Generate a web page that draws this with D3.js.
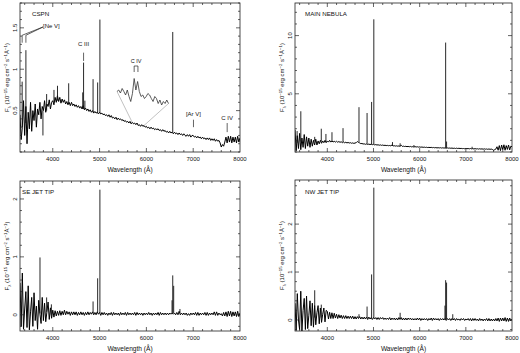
<!DOCTYPE html>
<html><head><meta charset="utf-8">
<script src="https://cdn.jsdelivr.net/npm/d3@7"></script>
<style>
body{margin:0;background:#fff}
svg{display:block;background:#fff}
text{font-family:"Liberation Sans",Arial,sans-serif;fill:#111}
</style></head>
<body><svg id="c" width="520" height="353"></svg>
<script>
// ---- data ----
const waveStart = 3300, waveStep = 25;           // flux arrays sampled every 25 Å from 3300 to 8000
const xTicks = [4000, 5000, 6000, 7000, 8000];

const cspnFlux = [
 0.45,0.15,0.30,0.62, 0.20,0.55,0.10,0.48, 0.28,0.60,0.25,0.50, 0.38,0.58,0.30,0.52, 0.45,0.60,0.40,0.55,
 0.50,0.62,0.48,0.58, 0.55,0.63,0.52,0.60, 0.62,0.57,0.66,0.60, 0.68,0.61,0.66,0.59, 0.64,0.60,0.63,0.58,
 0.61,0.57,0.60,0.56, 0.60,0.56,0.58,0.55, 0.57,0.54,0.56,0.53, 0.55,0.52,0.56,0.51, 0.53,0.50,0.52,0.49,
 0.51,0.48,0.50,0.47, 0.49,0.47,0.48,0.46, 0.48,0.46,0.47,0.45, 0.46,0.44,0.45,0.43, 0.45,0.42,0.44,0.41,
 0.42,0.40,0.42,0.39, 0.41,0.39,0.40,0.38, 0.39,0.37,0.38,0.36, 0.37,0.35,0.37,0.34, 0.36,0.34,0.35,0.33,
 0.35,0.32,0.33,0.31, 0.33,0.31,0.32,0.30, 0.31,0.29,0.30,0.28, 0.30,0.28,0.29,0.27, 0.28,0.27,0.28,0.26,
 0.27,0.25,0.27,0.25, 0.26,0.24,0.25,0.23, 0.25,0.23,0.24,0.22, 0.24,0.22,0.23,0.21, 0.23,0.21,0.22,0.20,
 0.22,0.20,0.19,0.21, 0.19,0.21,0.18,0.20, 0.20,0.18,0.19,0.17, 0.19,0.17,0.18,0.16, 0.18,0.16,0.17,0.15,
 0.17,0.15,0.17,0.14, 0.16,0.14,0.16,0.13, 0.15,0.13,0.14,0.11, 0.06,0.09,0.07,0.12, 0.18,0.11,0.19,0.12,
 0.19,0.11,0.18,0.12, 0.18,0.11,0.19,0.12, 0.17];
const mainFlux = [
 1.9,0.1,1.4,0.3, 1.6,0.2,1.2,0.4, 1.5,0.3,1.3,0.5, 1.2,0.4,1.1,0.5, 1.0,0.6,1.1,0.6,
 0.95,0.7,1.0,0.75, 0.95,0.8,1.0,0.8, 0.95,0.85,1.0,0.85, 0.95,0.86,0.92,0.85, 0.92,0.84,0.9,0.83,
 0.88,0.8,0.86,0.79, 0.84,0.78,0.82,0.77, 0.8,0.75,0.78,0.74, 0.77,0.8,0.9,0.82, 0.78,0.72,0.73,0.69,
 0.7,0.66,0.69,0.65, 0.68,0.64,0.67,0.63, 0.66,0.61,0.64,0.6, 0.62,0.58,0.61,0.57, 0.6,0.56,0.58,0.55,
 0.57,0.54,0.56,0.53, 0.6,0.52,0.54,0.51, 0.53,0.5,0.52,0.49, 0.58,0.48,0.5,0.47, 0.49,0.46,0.48,0.45,
 0.48,0.44,0.46,0.43, 0.46,0.43,0.45,0.42, 0.44,0.41,0.43,0.4, 0.42,0.39,0.41,0.38, 0.4,0.38,0.4,0.37,
 0.39,0.36,0.38,0.35, 0.37,0.35,0.37,0.34, 0.36,0.34,0.35,0.33, 0.35,0.33,0.34,0.32, 0.34,0.31,0.33,0.3,
 0.33,0.3,0.32,0.3, 0.31,0.29,0.3,0.28, 0.3,0.28,0.3,0.27, 0.3,0.27,0.29,0.26, 0.29,0.26,0.28,0.25,
 0.28,0.25,0.27,0.24, 0.27,0.24,0.26,0.23, 0.26,0.23,0.25,0.22, 0.15,0.2,0.25,0.45, 0.15,0.55,0.12,0.6,
 0.2,0.62,0.15,0.55, 0.22,0.6,0.18,0.5, 0.45];
const seFlux = [
 0.55,-0.2,0.72,-0.25, 0.1,0.4,-0.22,0.5, -0.26,0.05,0.3,-0.2, 0.38,-0.1,0.15,-0.25, 0.25,0.02,-0.15,0.3,
 -0.1,0.2,-0.12,0.05, 0.22,-0.08,0.12,-0.06, 0.08,-0.04,0.07,-0.02, 0.06,-0.01,0.07,-0.01, 0.06,0.0,0.08,0.0,
 0.06,0.01,0.05,-0.01, 0.05,0.0,0.05,0.0, 0.05,-0.01,0.04,0.0, 0.05,0.0,0.04,-0.01, 0.04,0.0,0.05,0.0,
 0.04,0.01,0.05,0.0, 0.04,0.0,0.05,0.01, 0.04,-0.01,0.04,0.0, 0.04,0.0,0.03,-0.01, 0.03,0.0,0.04,-0.01,
 0.04,0.0,0.03,0.0, 0.03,-0.01,0.04,0.0, 0.03,0.0,0.04,-0.01, 0.04,0.0,0.03,0.0, 0.03,0.0,0.04,-0.01,
 0.04,0.0,0.03,0.0, 0.03,-0.01,0.03,0.0, 0.03,0.0,0.04,0.0, 0.03,-0.01,0.03,0.0, 0.03,0.0,0.04,-0.01,
 0.04,0.0,0.03,0.0, 0.03,0.0,0.03,0.0, 0.03,0.01,0.03,0.01, 0.03,0.0,0.04,0.0, 0.06,0.0,0.03,0.0,
 0.03,0.0,0.03,-0.01, 0.02,-0.01,0.03,0.0, 0.03,0.0,0.04,-0.01, 0.04,-0.01,0.03,0.0, 0.03,0.0,0.04,-0.01,
 0.04,-0.01,0.03,0.0, 0.03,0.0,0.05,-0.01, 0.05,-0.01,0.03,0.0, 0.02,-0.02,0.04,-0.02, 0.05,-0.03,0.06,-0.02,
 0.06,-0.03,0.05,-0.02, 0.05,-0.03,0.06,-0.03, 0.03];
const nwFlux = [
 0.35,-0.22,0.55,0.0, -0.2,0.6,-0.23,0.2, 0.45,-0.2,0.5,-0.18, 0.1,0.4,-0.12,0.35, -0.15,0.3,-0.1,0.15,
 0.3,-0.08,0.25,-0.05, 0.12,0.25,-0.04,0.2, 0.18,0.02,0.16,0.03, 0.15,0.03,0.14,0.04, 0.12,0.03,0.11,0.04,
 0.1,0.03,0.09,0.03, 0.09,0.03,0.08,0.03, 0.08,0.03,0.08,0.02, 0.07,0.02,0.07,0.03, 0.07,0.02,0.06,0.02,
 0.06,0.02,0.06,0.01, 0.06,0.02,0.05,0.01, 0.05,0.02,0.05,0.01, 0.05,0.01,0.05,0.02, 0.05,0.01,0.04,0.01,
 0.04,0.01,0.05,0.0, 0.04,0.01,0.04,0.0, 0.04,0.0,0.05,0.01, 0.05,0.0,0.04,0.0, 0.04,0.0,0.04,0.01,
 0.04,0.0,0.03,0.0, 0.03,0.0,0.04,0.0, 0.04,-0.01,0.03,0.0, 0.03,0.0,0.03,-0.01, 0.03,0.0,0.04,-0.01,
 0.04,0.0,0.03,0.0, 0.03,-0.01,0.03,0.0, 0.03,0.0,0.03,-0.01, 0.03,0.0,0.03,-0.01, 0.03,0.0,0.03,-0.01,
 0.03,0.0,0.02,-0.01, 0.03,0.0,0.03,-0.01, 0.02,0.0,0.03,-0.01, 0.03,-0.02,0.03,-0.01, 0.03,-0.01,0.02,-0.02,
 0.03,-0.01,0.02,-0.02, 0.02,-0.01,0.03,-0.02, 0.03,-0.02,0.02,-0.02, 0.02,-0.02,0.03,-0.02, 0.04,-0.03,0.04,-0.02,
 0.04,-0.02,0.05,-0.03, 0.04,-0.03,0.04,-0.02, 0.02];

// emission / absorption lines: [wavelength, continuum level, peak]
const cspnLines = [[3346,0.30,0.85],[3426,0.35,1.23],[3790,0.50,0.20],[3869,0.50,0.70],[4026,0.60,0.75],[4101,0.62,0.80],
 [4340,0.58,0.83],[4640,0.52,0.72],[4658,0.52,1.08],[4686,0.52,0.62],[4861,0.48,0.88],[4959,0.47,0.84],[5007,0.47,1.60],[6563,0.24,1.45]];
const mainLines = [[3346,0.8,1.8],[3426,0.9,3.5],[3727,0.9,1.3],[3869,0.9,2.0],[3970,0.85,1.55],[4101,0.9,1.7],[4340,0.85,2.05],
 [4686,0.85,3.85],[4861,0.7,3.35],[4959,0.68,4.3],[5007,0.66,11.4],[5412,0.55,0.85],[5577,0.5,0.75],[5876,0.46,0.6],
 [6563,0.35,9.4],[6583,0.35,0.9],[7136,0.28,0.45]];
const seLines = [[3727,0.02,0.99],[3869,0.05,0.30],[3970,0.0,0.18],[4861,0.03,0.23],[4959,0.03,0.63],[5007,0.03,2.16],
 [6548,0.03,0.25],[6563,0.03,0.68],[6583,0.03,0.50],[6717,0.03,0.10]];
const nwLines = [[3727,0.05,0.62],[3869,0.05,0.32],[4686,0.05,0.12],[4861,0.04,0.28],[4959,0.04,0.95],[5007,0.04,2.76],
 [5577,0.03,0.15],[6548,0.02,0.30],[6563,0.02,0.83],[6583,0.02,0.78],[6717,0.02,0.12]];

const cspnYTicks = [0.5, 1, 1.5];
const mainYTicks = [5, 10];
const seYTicks = [0, 1, 2];
const nwYTicks = [0, 1, 2];

// C IV inset (relative flux, every 5 Å from 5751)
const insetStart = 5751, insetStep = 5;
const insetFlux = [1.23,1.26,1.20,1.29,1.23,1.16,1.26,1.13,1.03,1.19,1.49,1.26,1.43,1.23,1.13,1.16,1.09,1.13,1.19,1.16,
 1.09,1.03,1.13,1.09,0.99,1.06,0.96,1.03,0.99,1.06,0.99];

// CSPN line identifications: [label, wavelength, tick top flux, tick bottom flux, text flux]
const cspnIds = [["C III",4658,1.20,1.10,1.28],["[Ar V]",7006,0.39,0.30,0.435],["C IV",7726,0.35,0.24,0.39]];

// ---- drawing ----
const svg = d3.select("#c");
const panels = [
  {name:"CSPN", flux:cspnFlux, lines:cspnLines, yDom:[0,1.8], yTicks:cspnYTicks, yMinor:0.1, x0:20, x1:240, y0:3, y1:152, lx:32, ly:16},
  {name:"MAIN NEBULA", flux:mainFlux, lines:mainLines, yDom:[0,12.8], yTicks:mainYTicks, yMinor:1, x0:295, x1:512, y0:3, y1:152, lx:305, ly:16},
  {name:"SE JET TIP", flux:seFlux, lines:seLines, yDom:[-0.28,2.31], yTicks:seYTicks, yMinor:0.2, x0:20, x1:240, y0:181, y1:331, lx:22, ly:194},
  {name:"NW JET TIP", flux:nwFlux, lines:nwLines, yDom:[-0.23,2.92], yTicks:nwYTicks, yMinor:0.2, x0:295, x1:512, y0:180, y1:331, lx:305, ly:194}
];

function minorVals(lo, hi, step, majors){
  const out=[];
  for(let k=Math.ceil(lo/step-1e-9); k*step<=hi+1e-9; k++){
    const v=+(k*step).toFixed(6);
    if(!majors.some(m=>Math.abs(m-v)<1e-6)) out.push(v);
  }
  return out;
}

panels.forEach((p,i)=>{
  const x = d3.scaleLinear().domain([3300,8000]).range([p.x0,p.x1]);
  const y = d3.scaleLinear().domain(p.yDom).range([p.y1,p.y0]);
  const g = svg.append("g");
  const clipId = "clip"+i;
  svg.append("clipPath").attr("id",clipId).append("rect")
    .attr("x",p.x0).attr("y",p.y0).attr("width",p.x1-p.x0).attr("height",p.y1-p.y0);

  const pts = p.flux.map((f,k)=>({w:waveStart+k*waveStep, f}));
  const line = d3.line().x(d=>x(d.w)).y(d=>y(d.f));
  const body = g.append("g").attr("clip-path",`url(#${clipId})`);
  body.append("path").attr("d",line(pts)).attr("fill","none").attr("stroke","#000")
    .attr("stroke-width",1.0).attr("stroke-linejoin","round");
  body.selectAll("path.em").data(p.lines).join("path").attr("class","em")
    .attr("d",d=>line([{w:d[0],f:d[1]},{w:d[0],f:d[2]}]))
    .attr("stroke","#111").attr("stroke-width",0.9).attr("fill","none");

  // frame
  g.append("rect").attr("x",p.x0).attr("y",p.y0).attr("width",p.x1-p.x0).attr("height",p.y1-p.y0)
    .attr("fill","none").attr("stroke","#222").attr("stroke-width",0.8);

  // ticks (inside, all four sides)
  const tk = g.append("g").attr("stroke","#222").attr("stroke-width",0.7);
  const xMin = minorVals(3300,8000,200,xTicks);
  const addX=(vals,len)=>vals.forEach(v=>{
    tk.append("line").attr("x1",x(v)).attr("x2",x(v)).attr("y1",p.y1).attr("y2",p.y1-len);
    tk.append("line").attr("x1",x(v)).attr("x2",x(v)).attr("y1",p.y0).attr("y2",p.y0+len);
  });
  addX(xTicks.filter(v=>v<8000),4); addX(xMin,2);
  const yMin = minorVals(p.yDom[0],p.yDom[1],p.yMinor,p.yTicks);
  const addY=(vals,len)=>vals.forEach(v=>{
    tk.append("line").attr("x1",p.x0).attr("x2",p.x0+len).attr("y1",y(v)).attr("y2",y(v));
    tk.append("line").attr("x1",p.x1).attr("x2",p.x1-len).attr("y1",y(v)).attr("y2",y(v));
  });
  addY(p.yTicks,4); addY(yMin,2);

  // tick labels
  g.selectAll("text.xt").data(xTicks).join("text").attr("class","xt")
    .attr("x",d=>x(d)).attr("y",p.y1+8.5).attr("text-anchor","middle").attr("font-size",6).text(d=>d);
  g.selectAll("text.yt").data(p.yTicks).join("text").attr("class","yt")
    .attr("transform",d=>`translate(${p.x0-3.5},${y(d)}) rotate(-90)`).attr("text-anchor","middle")
    .attr("font-size",6).text(d=>d);

  // axis titles
  g.append("text").attr("x",(p.x0+p.x1)/2).attr("y",p.y1+19.5).attr("text-anchor","middle")
    .attr("font-size",6.6).text("Wavelength (Å)");
  const yt = g.append("text").attr("transform",`translate(${p.x0-11},${(p.y0+p.y1)/2}) rotate(-90)`)
    .attr("text-anchor","middle").attr("font-size",6);
  const segs=[["F",0],["λ",-1],[" (10",0],["−15",1],[" erg cm",0],["−2",1],[" s",0],["−1",1],["Å",0],["−1",1],[")",0]];
  let cur=0;
  segs.forEach(([t,m])=>{
    const target = m===1?-2.3:(m===-1?1.6:0);
    yt.append("tspan").attr("dy",target-cur).attr("font-size",m===0?6:4.3).text(t);
    cur=target;
  });

  // panel label
  g.append("text").attr("x",p.lx).attr("y",p.ly).attr("font-size",6.2).text(p.name);

  if(i===0){
    const a = g.append("g");
    // [Ne V]
    const neW=[3346,3426];
    const lab = {w:3791, f:1.51};
    neW.forEach(w=>{
      a.append("path").attr("d",d3.line()([[x(w),y(1.32)],[x(w),y(1.41)],[x(lab.w),y(lab.f)]]))
        .attr("fill","none").attr("stroke","#222").attr("stroke-width",0.7);
    });
    a.append("text").attr("x",x(lab.w)).attr("y",y(lab.f)+1).attr("font-size",6).text("[Ne V]");
    cspnIds.forEach(([t,w,top,bot,tf])=>{
      a.append("line").attr("x1",x(w)).attr("x2",x(w)).attr("y1",y(top)).attr("y2",y(bot))
        .attr("stroke","#222").attr("stroke-width",0.7);
      a.append("text").attr("x",x(w)).attr("y",y(tf)).attr("text-anchor","middle").attr("font-size",6).text(t);
    });
    // inset
    const insetEnd = insetStart+insetStep*(insetFlux.length-1);
    const ix = d3.scaleLinear().domain([insetStart,insetEnd]).range([117,168.5]);
    const iy = d3.scaleLinear().domain([0.9,1.6]).range([108,73]);
    const ipts = insetFlux.map((f,k)=>[ix(insetStart+k*insetStep), iy(f)]);
    a.append("line").attr("x1",ipts[0][0]).attr("y1",ipts[0][1]).attr("x2",x(5700)).attr("y2",y(0.355))
      .attr("stroke","#999").attr("stroke-width",0.6);
    a.append("line").attr("x1",ipts[ipts.length-1][0]).attr("y1",ipts[ipts.length-1][1]).attr("x2",x(5950)).attr("y2",y(0.32))
      .attr("stroke","#999").attr("stroke-width",0.6);
    a.append("path").attr("d",d3.line()(ipts)).attr("fill","none").attr("stroke","#333").attr("stroke-width",0.8);
    a.append("path").attr("d",d3.line()([[ix(5801),iy(1.62)],[ix(5801),iy(1.74)],[ix(5812),iy(1.74)],[ix(5812),iy(1.62)]]))
      .attr("fill","none").attr("stroke","#222").attr("stroke-width",0.7);
    a.append("text").attr("x",(ix(5801)+ix(5812))/2).attr("y",iy(1.8)).attr("text-anchor","middle").attr("font-size",5.5).text("C IV");
  }
});
</script></body></html>
